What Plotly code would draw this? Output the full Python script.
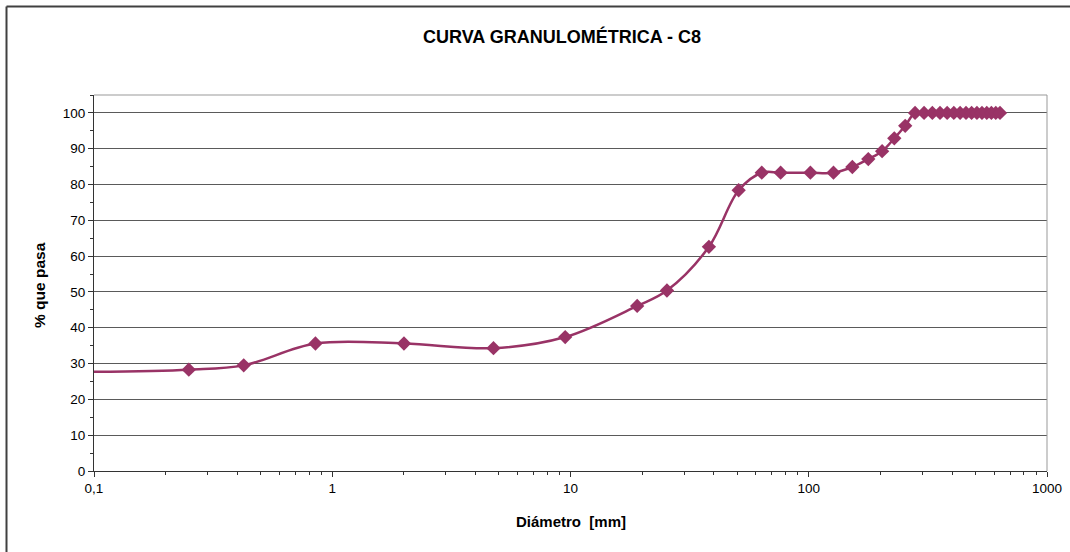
import plotly.graph_objects as go

# ---- data ----
diametro_mm = [0.075, 0.25, 0.425, 0.85, 2.0, 4.75, 9.5, 19.05, 25.4, 38.1, 50.8,
               63.5, 76.2, 101.6, 127.0, 152.4, 177.8, 203.2, 228.6, 254.0, 279.4,
               304.8, 330.2, 355.6, 381.0, 406.4, 431.8, 457.2, 482.6, 508.0, 533.4,
               558.8, 584.2, 609.6, 635.0]
pct_pasa = [27.6, 28.3, 29.5, 35.6, 35.6, 34.3, 37.4, 46.1, 50.4, 62.6, 78.4,
            83.3, 83.3, 83.3, 83.3, 84.9, 87.1, 89.3, 92.9, 96.4, 100.0,
            100.0, 100.0, 100.0, 100.0, 100.0, 100.0, 100.0, 100.0, 100.0, 100.0,
            100.0, 100.0, 100.0, 100.0]

x_tick_vals = [0.1, 1, 10, 100, 1000]
x_tick_text = ["0,1", "1", "10", "100", "1000"]
y_tick_vals = [0, 10, 20, 30, 40, 50, 60, 70, 80, 90, 100]

title_text = "CURVA GRANULOMÉTRICA - C8"
x_title = "Diámetro  [mm]"
y_title = "% que pasa"

# ---- layout geometry (pixels) ----
W, H = 1070, 552
L, R, T, B = 94, 1047, 95, 471
pw, ph = R - L, B - T

def px(x):
    return (x - L) / pw

def py(y):
    return (B - y) / ph

FONT = "Liberation Sans, Arial, sans-serif"
COLOR = "#993366"

x_minor = [m * 10 ** e for e in range(-1, 3) for m in range(2, 10)]

fig = go.Figure()
fig.add_trace(go.Scatter(
    x=diametro_mm, y=pct_pasa,
    mode="lines+markers",
    line=dict(color=COLOR, width=2.5, shape="spline", smoothing=1.0),
    marker=dict(symbol="diamond", size=11, color=COLOR),
    showlegend=False,
))

fig.update_layout(
    width=W, height=H,
    margin=dict(l=L, r=W - R, t=T, b=H - B, pad=0, autoexpand=False),
    paper_bgcolor="white", plot_bgcolor="white",
    font=dict(family=FONT, size=13, color="#000000"),
    showlegend=False,
)

fig.update_xaxes(
    type="log", range=[-1, 3],
    tickmode="array", tickvals=x_tick_vals, ticktext=x_tick_text,
    ticks="outside", ticklen=5, tickcolor="#333333", tickwidth=1,
    showgrid=False, zeroline=False,
    showline=True, linecolor="#333333", linewidth=1,
    tickfont=dict(family=FONT, size=13.5, color="#000000"),
    minor=dict(tickmode="array", tickvals=x_minor, ticks="outside", ticklen=3,
               tickcolor="#333333", showgrid=False),
)
fig.update_yaxes(
    range=[0, 105],
    tickmode="array", tickvals=y_tick_vals,
    ticks="outside", ticklen=5, tickcolor="#333333", tickwidth=1,
    showgrid=True, gridcolor="#5a5a5a", gridwidth=1,
    zeroline=False,
    showline=True, linecolor="#333333", linewidth=1,
    tickfont=dict(family=FONT, size=13.5, color="#000000"),
    minor=dict(dtick=5, ticks="outside", ticklen=3, tickcolor="#333333", showgrid=False),
)

# plot-area top/right border (gray) and outer chart frame
fig.add_shape(type="line", xref="paper", yref="paper", x0=0, x1=1, y0=1, y1=1,
              line=dict(color="#999999", width=1))
fig.add_shape(type="line", xref="paper", yref="paper", x0=1, x1=1, y0=0, y1=1,
              line=dict(color="#999999", width=1))
fig.add_shape(type="line", xref="paper", yref="paper",
              x0=px(6.5), x1=px(1075), y0=py(6.5), y1=py(6.5),
              line=dict(color="#404040", width=2))
fig.add_shape(type="line", xref="paper", yref="paper",
              x0=px(6.5), x1=px(6.5), y0=py(6.5), y1=py(560),
              line=dict(color="#404040", width=2))

fig.add_annotation(text=f"<b>{title_text}</b>", xref="paper", yref="paper",
                   x=px(562), y=py(36), xanchor="center", yanchor="middle",
                   showarrow=False, font=dict(family=FONT, size=18, color="#000000"))
fig.add_annotation(text=f"<b>{x_title}</b>", xref="paper", yref="paper",
                   x=px(571), y=py(521), xanchor="center", yanchor="middle",
                   showarrow=False, font=dict(family=FONT, size=15, color="#000000"))
fig.add_annotation(text=f"<b>{y_title}</b>", xref="paper", yref="paper",
                   x=px(39), y=py(285), xanchor="center", yanchor="middle",
                   textangle=-90,
                   showarrow=False, font=dict(family=FONT, size=15.5, color="#000000"))

fig.write_html("out.html",
               config={"displayModeBar": False},
               post_script="document.body.style.margin='0';document.body.style.overflow='hidden';")
